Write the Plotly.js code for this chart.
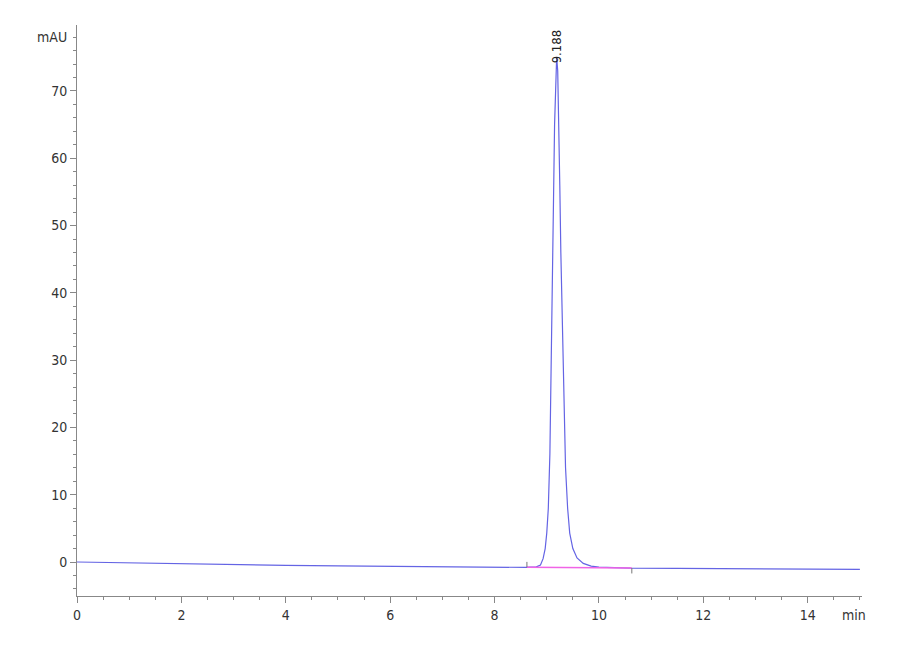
<!DOCTYPE html>
<html>
<head>
<meta charset="utf-8">
<script src="https://cdn.plot.ly/plotly-3.0.1.min.js"></script>
<style>
  html, body { margin: 0; padding: 0; background: #fff; }
  #chart { width: 900px; height: 660px; }
</style>
</head>
<body>
<div id="chart"></div>
<script>
// chromatogram (min, mAU)
const timeMin = [0, 1, 2, 3, 4, 5, 6, 7, 8, 8.6, 8.8, 8.88, 8.93, 8.97, 9.0, 9.03, 9.06, 9.09, 9.11, 9.13,
  9.15, 9.17, 9.19, 9.21, 9.23, 9.25, 9.27, 9.3, 9.33, 9.36, 9.4, 9.44, 9.5, 9.58, 9.7, 9.85, 10.0,
  10.6, 11.5, 12, 13, 14, 15];
const signal = [0, -0.15, -0.3, -0.4, -0.5, -0.58, -0.65, -0.7, -0.75, -0.8, -0.72, -0.45, 0.5, 2.0, 4.3, 8, 16, 30, 42, 54,
  65, 72.5, 75, 73, 66, 56, 46, 35, 24, 14, 8, 4.3, 2.0, 0.6, -0.2, -0.6, -0.75,
  -0.9, -0.95, -0.98, -1.0, -1.05, -1.1];

// integration baseline under the peak
const baseTime = [8.62, 10.63];
const baseValue = [-0.78, -0.9];

const peakRT = 9.188;
const peakHeight = 75;

const xTicks = [0, 2, 4, 6, 8, 10, 12, 14];
const yTicks = [0, 10, 20, 30, 40, 50, 60, 70];

const tickFont = { family: "DejaVu Sans Condensed, Liberation Sans Narrow, Arial Narrow, sans-serif", size: 14, color: "#333" };

const traces = [
  {
    x: timeMin, y: signal, type: "scatter", mode: "lines",
    line: { color: "rgb(100,100,228)", width: 1.2 }, hoverinfo: "skip"
  },
  {
    x: baseTime, y: baseValue, type: "scatter", mode: "lines",
    line: { color: "rgb(240,100,230)", width: 1.5 }, hoverinfo: "skip"
  },
  // start / end markers of the integration
  {
    x: [baseTime[0], baseTime[0]], y: [baseValue[0], baseValue[0] + 0.8], type: "scatter", mode: "lines",
    line: { color: "#777", width: 1 }, hoverinfo: "skip"
  },
  {
    x: [baseTime[1], baseTime[1]], y: [baseValue[1], baseValue[1] - 0.8], type: "scatter", mode: "lines",
    line: { color: "#777", width: 1 }, hoverinfo: "skip"
  }
];

const layout = {
  width: 900, height: 660,
  margin: { l: 77, r: 38, t: 25, b: 64 },
  paper_bgcolor: "#fff", plot_bgcolor: "#fff",
  showlegend: false,
  xaxis: {
    range: [0, 15.04], tickvals: xTicks, ticks: "outside", ticklen: 6, tickcolor: "#888",
    showline: true, linecolor: "#888", linewidth: 1, showgrid: false, zeroline: false,
    tickfont: tickFont,
    minor: { dtick: 0.5, tick0: 0, ticks: "outside", ticklen: 3, tickcolor: "#888", showgrid: false }
  },
  yaxis: {
    range: [-5.05, 79.8], tickvals: yTicks, ticks: "outside", ticklen: 6, tickcolor: "#888",
    showline: true, linecolor: "#888", linewidth: 1, showgrid: false, zeroline: false,
    tickfont: tickFont,
    minor: { dtick: 2, tick0: 0, ticks: "outside", ticklen: 3, tickcolor: "#888", showgrid: false }
  },
  annotations: [
    {
      text: "mAU", xref: "paper", x: 0, xanchor: "right", xshift: -8,
      yref: "y", y: 78, yanchor: "middle", showarrow: false, font: tickFont
    },
    {
      text: "min", xref: "x", x: 15.0, xanchor: "right", xshift: 8,
      yref: "paper", y: 0, yanchor: "top", yshift: -9, showarrow: false, font: tickFont
    },
    {
      text: peakRT.toFixed(3), xref: "x", x: peakRT, xanchor: "center",
      yref: "y", y: peakHeight, yanchor: "bottom", yshift: -8, textangle: -90,
      showarrow: false, font: { family: "DejaVu Sans Condensed, Liberation Sans, sans-serif", size: 13, color: "#222" }
    }
  ]
};

Plotly.newPlot("chart", traces, layout, { displayModeBar: false, staticPlot: true });
</script>
</body>
</html>
